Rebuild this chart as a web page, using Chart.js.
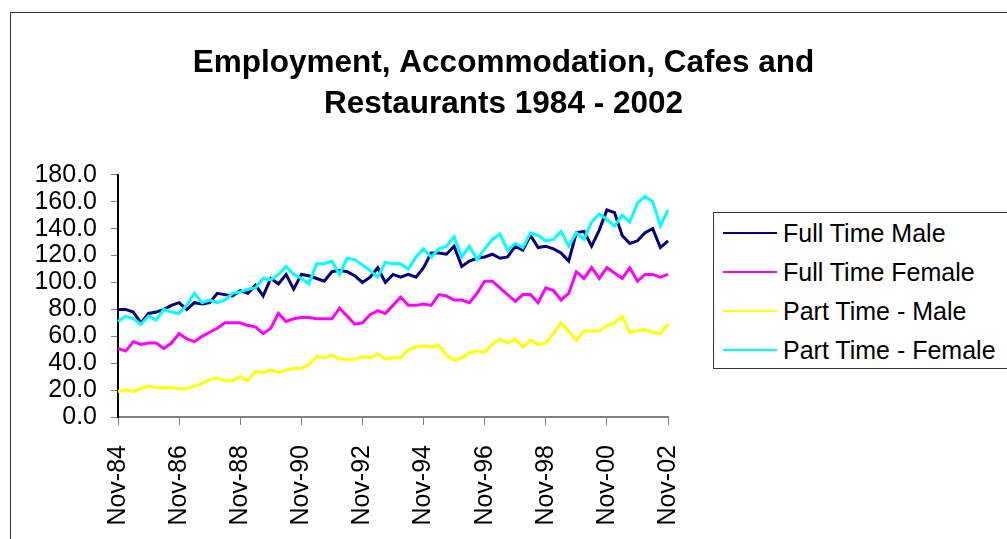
<!DOCTYPE html>
<html>
<head>
<meta charset="utf-8">
<script src="https://cdn.jsdelivr.net/npm/chart.js@4.4.1/dist/chart.umd.min.js"></script>
<style>
  html, body { margin: 0; padding: 0; background: #fff; overflow: hidden; }
  body { width: 1007px; height: 539px; position: relative; font-family: 'Liberation Sans', Arial, sans-serif; }
  #frame { position: absolute; left: 10px; top: 12px; width: 1100px; height: 600px; border-left: 1px solid #333; border-top: 1px solid #333; }
  #chart { position: absolute; left: 0; top: 0; }
  #legend { position: absolute; left: 713px; top: 212px; width: 330px; height: 155px; border: 1px solid #333; background: #fff; }
  .lg-row { position: absolute; left: 0; height: 30px; display: flex; align-items: center; }
  .lg-line { width: 54px; height: 2px; margin-left: 9px; margin-right: 6px; }
  .lg-text { font-size: 25px; color: #000; white-space: nowrap; }
</style>
</head>
<body>
<div id="frame"></div>
<canvas id="chart" width="1007" height="539"></canvas>
<div id="legend"></div>
<script>
// quarterly categories, Nov-84 .. Nov-02
const months = ['Nov', 'Feb', 'May', 'Aug'];
const categories = [];
for (let y = 84; y <= 102; y++) {
  months.forEach((m, q) => {
    const yr = q === 0 ? y : y + 1;
    if (categories.length < 73) categories.push(m + '-' + String(yr % 100).padStart(2, '0'));
  });
}

const seriesNames = ['Full Time Male', 'Full Time Female', 'Part Time - Male', 'Part Time - Female'];
const seriesColors = ['#000080', '#FF00FF', '#FFFF00', '#00FFFF'];

const fullTimeMale = [80, 80, 78, 70, 77, 78, 80, 83, 85, 80, 85, 84, 85, 92, 91, 90, 94, 92, 98, 90,
  103, 99, 106, 95, 106, 105, 103, 101, 108, 109, 108, 105, 100, 104, 111, 100, 106, 104, 106, 104,
  111, 122, 122, 121, 127, 112, 116, 118, 119, 121, 118, 119, 127, 124, 135, 126, 127, 125, 122, 116,
  137, 138, 127, 139, 154, 152, 135, 129, 131, 137, 140, 126, 131];
const fullTimeFemale = [51, 49, 56, 54, 55, 55, 51, 55, 62, 58, 56, 60, 63, 66, 70, 70, 70, 68, 67, 62,
  66, 77, 71, 73, 74, 74, 73, 73, 73, 81, 75, 69, 70, 76, 79, 77, 83, 89, 83, 83,
  84, 83, 91, 90, 87, 87, 85, 92, 101, 101, 96, 91, 86, 91, 91, 85, 96, 94, 87, 92,
  108, 103, 111, 103, 111, 107, 103, 111, 101, 106, 106, 104, 106];
const partTimeMale = [19, 20, 19, 21, 23, 22, 22, 22, 21, 21, 23, 25, 28, 29, 27, 27, 30, 27, 34, 33,
  35, 33, 35, 36, 36, 39, 45, 44, 46, 43, 43, 43, 45, 44, 47, 43, 44, 44, 50, 52,
  53, 52, 53, 46, 42, 44, 48, 49, 48, 54, 58, 55, 58, 52, 57, 54, 55, 62, 70, 64,
  57, 64, 64, 64, 68, 70, 75, 63, 64, 65, 63, 62, 69];
const partTimeFemale = [71, 75, 73, 69, 75, 72, 80, 78, 77, 83, 92, 85, 87, 85, 87, 92, 93, 95, 96, 103,
  102, 106, 112, 106, 103, 99, 114, 114, 116, 106, 118, 117, 113, 109, 104, 115, 114, 114, 110, 119,
  125, 119, 125, 127, 134, 119, 127, 117, 125, 132, 136, 124, 129, 126, 137, 135, 131, 132, 138, 127,
  137, 132, 145, 151, 147, 142, 150, 145, 159, 164, 160, 142, 154];

const yTicks = [0, 20, 40, 60, 80, 100, 120, 140, 160, 180];
const tickEvery = 8; // a label every two years

const series = [fullTimeMale, fullTimeFemale, partTimeMale, partTimeFemale];
const font = "'Liberation Sans', Arial, sans-serif";

new Chart(document.getElementById('chart'), {
  type: 'line',
  data: {
    labels: categories,
    datasets: series.map((d, i) => ({
      label: seriesNames[i], data: d,
      borderColor: seriesColors[i], backgroundColor: seriesColors[i],
      borderWidth: 3, pointRadius: 0, tension: 0, fill: false,
      order: series.length - i,
    })),
  },
  options: {
    responsive: false, animation: false,
    layout: { padding: 0 },
    plugins: {
      legend: { display: false },
      tooltip: { enabled: false },
      title: {
        display: true,
        text: ['Employment, Accommodation, Cafes and', 'Restaurants 1984 - 2002'],
        color: '#000',
        font: { family: font, size: 31.5, weight: 'bold', lineHeight: 1.3 },
        padding: { top: 43, bottom: 50 },
      },
    },
    scales: {
      x: {
        offset: false,
        border: { display: true, color: '#808080', width: 2 },
        grid: {
          drawOnChartArea: false, drawTicks: true, tickLength: 8,
          color: (c) => (c.index % tickEvery === 0 ? '#808080' : 'rgba(0,0,0,0)'),
        },
        ticks: {
          autoSkip: false, maxRotation: 90, minRotation: 90, padding: 20,
          color: '#000', font: { family: font, size: 25 },
          callback: (v, i) => (i % tickEvery === 0 ? categories[i] : ''),
        },
        afterFit: (s) => { s.height = 122; },
      },
      y: {
        min: yTicks[0], max: yTicks[yTicks.length - 1],
        border: { display: true, color: '#000', width: 2 },
        grid: { drawOnChartArea: false, drawTicks: true, tickLength: 7, color: '#808080' },
        ticks: {
          stepSize: 20, autoSkip: false, padding: 14, color: '#000', font: { family: font, size: 25 },
          callback: (v) => v.toFixed(1),
        },
        afterFit: (s) => { s.width = 118; },
      },
      // empty right-hand axis that keeps room for the legend box
      spacer: {
        type: 'linear', position: 'right', display: true,
        grid: { display: false }, border: { display: false }, ticks: { display: false },
        afterFit: (s) => { s.width = 339; },
      },
    },
  },
});

// legend box, drawn as html
const legend = document.getElementById('legend');
seriesNames.forEach((name, i) => {
  const row = document.createElement('div');
  row.className = 'lg-row';
  row.style.top = (5 + i * 39) + 'px';
  row.innerHTML = `<span class="lg-line" style="background:${seriesColors[i]}"></span><span class="lg-text">${name}</span>`;
  legend.appendChild(row);
});
</script>
</body>
</html>
